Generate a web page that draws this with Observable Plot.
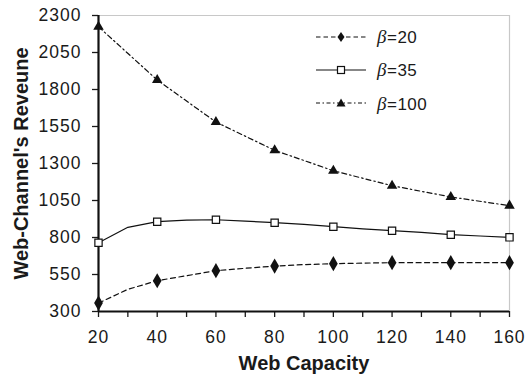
<!DOCTYPE html>
<html><head><meta charset="utf-8">
<script src="https://cdn.jsdelivr.net/npm/d3@7"></script>
<script src="https://cdn.jsdelivr.net/npm/@observablehq/plot@0.6"></script>
<style>
body{margin:0;background:#fff;}
#wrap{position:relative;width:526px;height:383px;font-family:"Liberation Sans",Arial,sans-serif;color:#1a1a1a;}
#legend{position:absolute;left:316px;top:20px;}
.row{display:flex;align-items:center;height:33.3px;}
.row svg{display:block;margin-right:11px;}
.lab{font-size:17px;line-height:1;letter-spacing:0.5px;}
.lab i{font-family:"Liberation Serif","Times New Roman",serif;font-size:19px;}
g[aria-label$="tick label"] text{letter-spacing:1px;}
</style></head>
<body>
<div id="wrap"><div id="chart"></div>
<div id="legend">
 <div class="row"><svg width="50" height="12"><line x1="0" y1="6" x2="50" y2="6" stroke="#111" stroke-width="1.2" stroke-dasharray="4.5,3"/><path d="M25,1 L28.5,6 L25,11 L21.5,6Z" fill="#111"/></svg><span class="lab"><i>β</i>=20</span></div>
 <div class="row"><svg width="50" height="12"><line x1="0" y1="6" x2="50" y2="6" stroke="#111" stroke-width="1.2"/><rect x="21.5" y="2.5" width="7" height="7" fill="#fff" stroke="#111" stroke-width="1.2"/></svg><span class="lab"><i>β</i>=35</span></div>
 <div class="row"><svg width="50" height="12"><line x1="0" y1="6" x2="50" y2="6" stroke="#111" stroke-width="1.2" stroke-dasharray="4,2.5,1.5,2.5"/><path d="M25,1.5 L29.5,9.5 L20.5,9.5Z" fill="#111"/></svg><span class="lab"><i>β</i>=100</span></div>
</div>
</div>
<script>
const capacity = [20,30,40,50,60,70,80,90,100,110,120,130,140,150,160];
const beta20 = [357,450,508,542,576,592,607,617,623,627,630,630,630,630,630];
const beta35 = [765,869,907,918,920,911,900,889,873,858,846,835,819,810,801];
const capacity100 = [20,40,60,80,100,120,140,160];
const beta100 = [2224,1864,1580,1389,1251,1150,1074,1015];
const yTicks = [300,550,800,1050,1300,1550,1800,2050,2300];
const xTicks = [20,30,40,50,60,70,80,90,100,110,120,130,140,150,160];
const xTitle = "Web Capacity";
const yTitle = "Web-Channel's Reveune";

const rows20 = capacity.map((c,i)=>({capacity:c, value:beta20[i]}));
const rows35 = capacity.map((c,i)=>({capacity:c, value:beta35[i]}));
const rows100 = capacity100.map((c,i)=>({capacity:c, value:beta100[i]}));
const marked = d => d.capacity % 20 === 0;

const chart = Plot.plot({
  width:526, height:383,
  marginLeft:98, marginRight:17, marginTop:15, marginBottom:72,
  x:{domain:[20,160]},
  y:{domain:[300,2300]},
  style:{fontFamily:"Liberation Sans, Arial, sans-serif", fontSize:"17.5px", color:"#1a1a1a", background:"white", overflow:"visible"},
  marks:[
    Plot.ruleY([2300],{stroke:"#c8c8c8", strokeWidth:1.2}),
    Plot.ruleX([160],{stroke:"#c8c8c8", strokeWidth:1.2}),
    Plot.axisY({ticks:yTicks, tickSize:6, tickPadding:11, tickFormat:d=>String(d), label:null, strokeWidth:1.3}),
    Plot.axisX({ticks:xTicks, tickSize:6, tickPadding:13, tickFormat:d=>d%20===0?String(d):"", label:null, strokeWidth:1.3}),
    Plot.line(rows20,{x:"capacity", y:"value", stroke:"#111", strokeWidth:1.2, strokeDasharray:"5,3.5"}),
    Plot.line(rows35,{x:"capacity", y:"value", stroke:"#111", strokeWidth:1.2}),
    Plot.line(rows100,{x:"capacity", y:"value", stroke:"#111", strokeWidth:1.2, strokeDasharray:"5,3,1.5,3"}),
    Plot.ruleX([20],{stroke:"#111", strokeWidth:2.2}),
    Plot.ruleY([300],{stroke:"#111", strokeWidth:2.2}),
    Plot.dot(rows20.filter(marked),{x:"capacity", y:"value", symbol:"diamond", r:4.6, fill:"#111", stroke:"none"}),
    Plot.dot(rows35.filter(marked),{x:"capacity", y:"value", symbol:"square", r:4.1, fill:"white", stroke:"#111", strokeWidth:1.2}),
    Plot.dot(rows100,{x:"capacity", y:"value", symbol:"triangle", r:3.9, fill:"#111", stroke:"none"}),
    Plot.text([xTitle],{text:d=>d, frameAnchor:"bottom", dy:52, textAnchor:"middle", lineAnchor:"middle", fontSize:20, fontWeight:"bold", fill:"#1a1a1a"}),
    Plot.text([yTitle],{text:d=>d, frameAnchor:"left", dx:-77, rotate:-90, textAnchor:"middle", lineAnchor:"middle", fontSize:20, fontWeight:"bold", fill:"#1a1a1a"})
  ]
});
document.getElementById("chart").appendChild(chart);
</script>
</body></html>
